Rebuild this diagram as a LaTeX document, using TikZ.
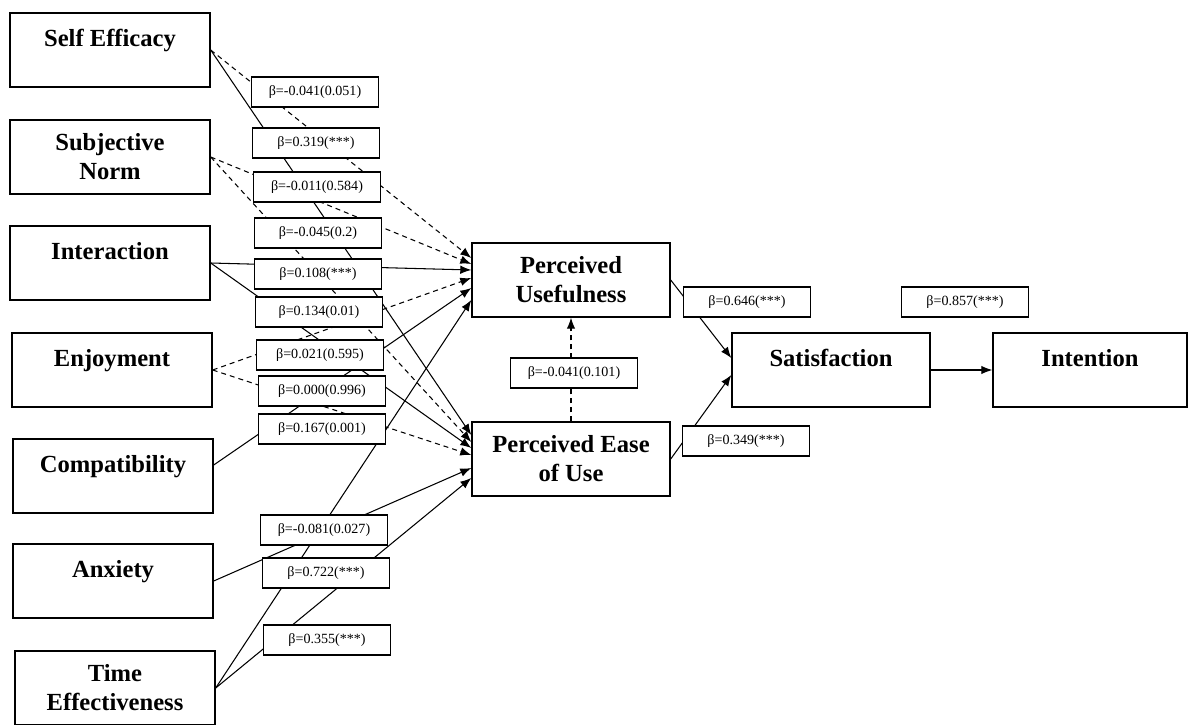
\documentclass[tikz,border=0pt]{standalone}
\usepackage{fontspec}
\setmainfont{Liberation Serif}
\usetikzlibrary{arrows.meta,calc}

\tikzset{
	construct/.style={draw,line width=0.8pt,minimum width=40mm,minimum height=14.8mm,align=center,inner sep=2pt,font=\fontsize{14}{16.5}\selectfont\bfseries},
	coef/.style={draw,fill=white,line width=0.6pt,minimum width=25.4mm,minimum height=6mm,inner sep=0pt,font=\fontsize{8}{9}\selectfont},
	link/.style={line width=0.6pt,-{Latex[length=2.2mm,width=1.7mm]}},
	dlink/.style={link,dash pattern=on 1mm off 0.8mm},
}

\begin{document}
\begin{tikzpicture}[x=0.2mm,y=-0.2mm]
	\path[use as bounding box] (0,0) rectangle (1188,724);

	\node[construct] (se) at (110,50) {Self Efficacy\\[-8pt]\strut};
	\node[construct] (sn) at (110,157) {Subjective\\Norm};
	\node[construct] (inter) at (110,263) {Interaction\\[-8pt]\strut};
	\node[construct] (enj) at (112,370) {Enjoyment\\[-8pt]\strut};
	\node[construct] (comp) at (113,476) {Compatibility\\[-8pt]\strut};
	\node[construct] (anx) at (113,581) {Anxiety\\[-8pt]\strut};
	\node[construct] (te) at (115,688) {Time\\Effectiveness};

	\node[construct,minimum width=39.6mm] (pu) at (571,280) {Perceived\\Usefulness};
	\node[construct,minimum width=39.6mm] (peou) at (571,459) {Perceived Ease\\of Use};
	\node[construct,minimum width=39.6mm] (sat) at (831,370) {Satisfaction\\[-8pt]\strut};
	\node[construct,minimum width=38.8mm] (intent) at (1090,370) {Intention\\[-8pt]\strut};

	\draw[dlink] (se.east) -- ($(pu.west)+(0,-22)$);
	\draw[link] (se.east) -- ($(peou.west)+(0,-24)$);
	\draw[dlink] (sn.east) -- ($(pu.west)+(0,-16)$);
	\draw[dlink] (sn.east) -- ($(peou.west)+(0,-17)$);
	\draw[link] (inter.east) -- ($(pu.west)+(0,-10)$);
	\draw[link] (inter.east) -- ($(peou.west)+(0,-11)$);
	\draw[dlink] (enj.east) -- ($(pu.west)+(0,-2)$);
	\draw[dlink] (enj.east) -- ($(peou.west)+(0,-4)$);
	\draw[link] ($(comp.east)+(0,-11)$) -- ($(pu.west)+(0,8)$);
	\draw[link] (anx.east) -- ($(peou.west)+(0,9)$);
	\draw[link] (te.east) -- ($(pu.west)+(0,20)$);
	\draw[link] (te.east) -- ($(peou.west)+(0,19)$);

	\draw[dlink] (peou.north) -- (pu.south);
	\draw[link] (pu.east) -- ($(sat.west)+(0,-12)$);
	\draw[link] (peou.east) -- ($(sat.west)+(0,5)$);
	\draw[link] (sat.east) -- (intent.west);

	\node[coef] (b1) at (315,92) {β=-0.041(0.051)};
	\node[coef] (b2) at (316,143) {β=0.319(***)};
	\node[coef] (b3) at (317,187) {β=-0.011(0.584)};
	\node[coef] (b4) at (318,233) {β=-0.045(0.2)};
	\node[coef] (b5) at (318,274) {β=0.108(***)};
	\node[coef] (b6) at (319,312) {β=0.134(0.01)};
	\node[coef] (b7) at (320,355) {β=0.021(0.595)};
	\node[coef] (b8) at (322,391) {β=0.000(0.996)};
	\node[coef] (b9) at (322,429) {β=0.167(0.001)};
	\node[coef] (b10) at (324,530) {β=-0.081(0.027)};
	\node[coef] (b11) at (326,573) {β=0.722(***)};
	\node[coef] (b12) at (327,640) {β=0.355(***)};

	\node[coef] (b13) at (574,373) {β=-0.041(0.101)};
	\node[coef] (b14) at (747,302) {β=0.646(***)};
	\node[coef] (b15) at (746,441) {β=0.349(***)};
	\node[coef] (b16) at (965,302) {β=0.857(***)};

\end{tikzpicture}
\end{document}
